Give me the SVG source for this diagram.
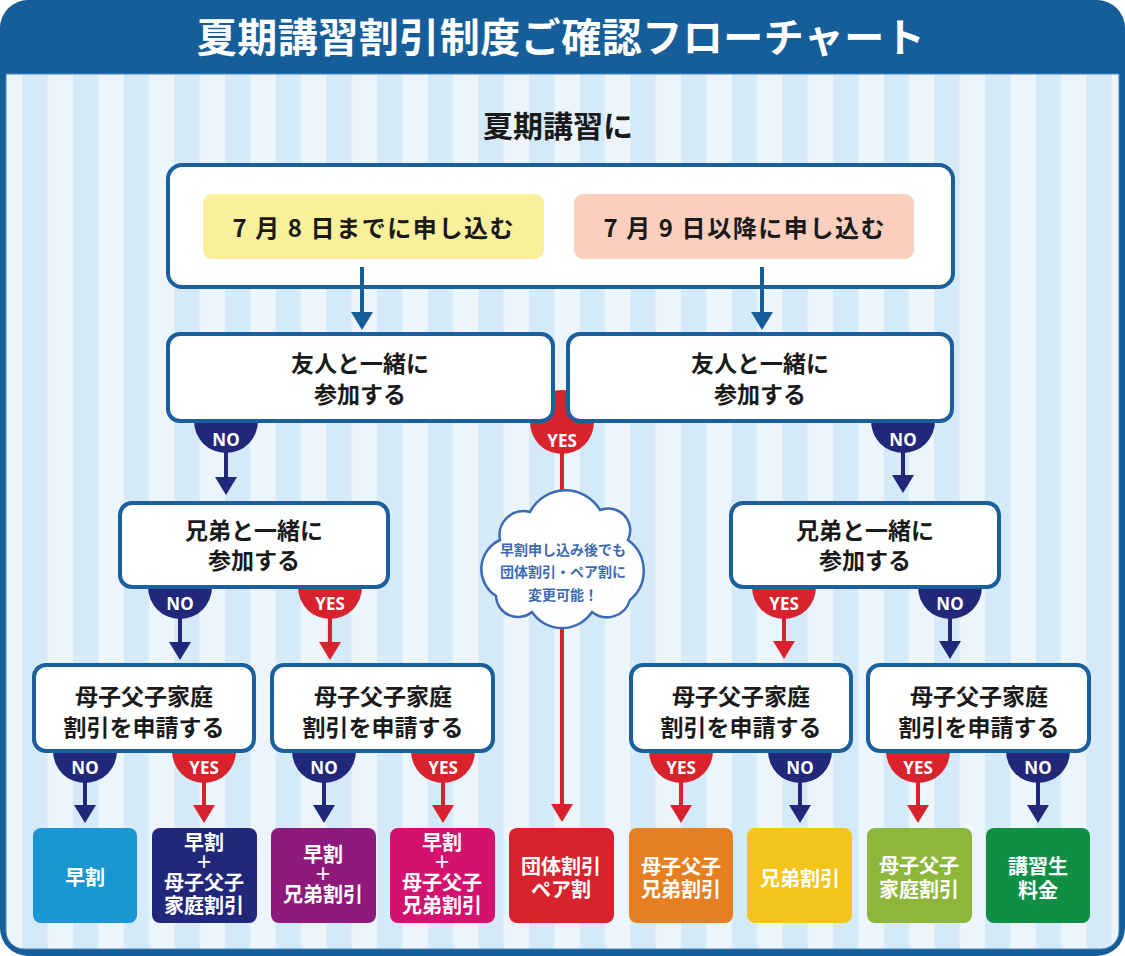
<svg xmlns="http://www.w3.org/2000/svg" width="1125" height="956" viewBox="0 0 1125 956">
<defs>
<pattern id="stripes" patternUnits="userSpaceOnUse" x="22.33" y="0" width="50.67" height="10">
<rect width="50.67" height="10" fill="#ecf5fc"/>
<rect width="25.33" height="10" fill="#d4eaf8"/>
</pattern>
<marker id="ah-blue" viewBox="0 0 18 22" refX="2" refY="11" markerWidth="18" markerHeight="22" markerUnits="userSpaceOnUse" orient="auto"><path d="M0,0 L18,11 L0,22 Z" fill="#165e99"/></marker>
<marker id="ah-navy" viewBox="0 0 18 22" refX="2" refY="11" markerWidth="18" markerHeight="22" markerUnits="userSpaceOnUse" orient="auto"><path d="M0,0 L18,11 L0,22 Z" fill="#21287a"/></marker>
<marker id="ah-red" viewBox="0 0 18 22" refX="2" refY="11" markerWidth="18" markerHeight="22" markerUnits="userSpaceOnUse" orient="auto"><path d="M0,0 L18,11 L0,22 Z" fill="#d8232e"/></marker>
</defs>
<style>
text{font-family:"Noto Sans CJK JP","Noto Sans",sans-serif;font-weight:700;text-anchor:middle}
.title{fill:#ffffff;font-size:40px;letter-spacing:0.5px}
.head{fill:#1a1a1a;font-size:30px}
.date{fill:#1a1a1a;font-size:24px}
.q{fill:#1a1a1a;font-size:23px}
.box{fill:#ffffff;stroke:#1b5f9c;stroke-width:4}
.no{fill:#21287a}
.yes{fill:#d8232e}
.lbl{fill:#ffffff;font-size:17px;font-family:"Noto Sans","Open Sans",sans-serif}
.res{fill:#ffffff;font-size:20px}
.plus{font-size:17px}
.cl{fill:#3d6ab3;font-size:14px}
.ln-blue{stroke:#165e99;stroke-width:4;fill:none;marker-end:url(#ah-blue)}
.ln-navy{stroke:#21287a;stroke-width:4;fill:none;marker-end:url(#ah-navy)}
.ln-red{stroke:#d8232e;stroke-width:4;fill:none;marker-end:url(#ah-red)}
</style>

<!-- frame -->
<rect x="0" y="0" width="1125" height="956" rx="28" fill="#165e99"/>
<path d="M6,74 H1119 V931 A18,18 0 0 1 1101,949 H24 A18,18 0 0 1 6,931 Z" fill="url(#stripes)" stroke="#4a86bd" stroke-width="1"/>
<text class="title" x="561" y="52">夏期講習割引制度ご確認フローチャート</text>
<text class="head" x="558" y="137">夏期講習に</text>

<!-- badges (behind boxes) -->
<g id="badges">
<circle class="no" cx="226" cy="421" r="32"/><text class="lbl" x="226" y="446">NO</text>
<circle class="yes" cx="562" cy="422" r="32"/><text class="lbl" x="562" y="447">YES</text>
<circle class="no" cx="903" cy="421" r="32"/><text class="lbl" x="903" y="446">NO</text>
<circle class="no" cx="180" cy="587" r="32"/><text class="lbl" x="180" y="610">NO</text>
<circle class="yes" cx="330" cy="587" r="32"/><text class="lbl" x="330" y="610">YES</text>
<circle class="yes" cx="784" cy="587" r="32"/><text class="lbl" x="784" y="610">YES</text>
<circle class="no" cx="950" cy="587" r="32"/><text class="lbl" x="950" y="610">NO</text>
<circle class="no" cx="85" cy="751" r="32"/><text class="lbl" x="85" y="774">NO</text>
<circle class="yes" cx="204" cy="751" r="32"/><text class="lbl" x="204" y="774">YES</text>
<circle class="no" cx="324" cy="751" r="32"/><text class="lbl" x="324" y="774">NO</text>
<circle class="yes" cx="443" cy="751" r="32"/><text class="lbl" x="443" y="774">YES</text>
<circle class="yes" cx="681" cy="751" r="32"/><text class="lbl" x="681" y="774">YES</text>
<circle class="no" cx="800" cy="751" r="32"/><text class="lbl" x="800" y="774">NO</text>
<circle class="yes" cx="918" cy="751" r="32"/><text class="lbl" x="918" y="774">YES</text>
<circle class="no" cx="1038" cy="751" r="32"/><text class="lbl" x="1038" y="774">NO</text>
</g>

<!-- nodes -->
<g id="start">
<rect class="box" x="168" y="165" width="785" height="122" rx="14"/>
</g>
<g id="early">
<rect x="203" y="194" width="341" height="65" rx="9" fill="#f8f09a"/>
<text class="date" x="373" y="237" textLength="281" lengthAdjust="spacing">7 月 8 日までに申し込む</text>
</g>
<g id="late">
<rect x="574" y="194" width="340" height="65" rx="9" fill="#fbcfbd"/>
<text class="date" x="744" y="237" textLength="281" lengthAdjust="spacing">7 月 9 日以降に申し込む</text>
</g>
<g id="friend-early">
<rect class="box" x="168" y="334" width="385" height="87" rx="12"/>
<text class="q" x="360" y="372">友人と一緒に<tspan x="360" y="403">参加する</tspan></text>
</g>
<g id="friend-late">
<rect class="box" x="568" y="334" width="384" height="87" rx="12"/>
<text class="q" x="760" y="372">友人と一緒に<tspan x="760" y="403">参加する</tspan></text>
</g>
<g id="sibling-early">
<rect class="box" x="120" y="503" width="268" height="84" rx="12"/>
<text class="q" x="254" y="539">兄弟と一緒に<tspan x="254" y="569">参加する</tspan></text>
</g>
<g id="sibling-late">
<rect class="box" x="731" y="503" width="268" height="84" rx="12"/>
<text class="q" x="865" y="539">兄弟と一緒に<tspan x="865" y="569">参加する</tspan></text>
</g>
<g id="single-1">
<rect class="box" x="34" y="665" width="220" height="86" rx="12"/>
<text class="q" x="144" y="705">母子父子家庭<tspan x="144" y="736">割引を申請する</tspan></text>
</g>
<g id="single-2">
<rect class="box" x="272" y="665" width="221" height="86" rx="12"/>
<text class="q" x="383" y="705">母子父子家庭<tspan x="383" y="736">割引を申請する</tspan></text>
</g>
<g id="single-3">
<rect class="box" x="631" y="665" width="220" height="86" rx="12"/>
<text class="q" x="741" y="705">母子父子家庭<tspan x="741" y="736">割引を申請する</tspan></text>
</g>
<g id="single-4">
<rect class="box" x="868" y="665" width="221" height="86" rx="12"/>
<text class="q" x="979" y="705">母子父子家庭<tspan x="979" y="736">割引を申請する</tspan></text>
</g>

<!-- connectors -->
<g id="connectors">
<line class="ln-blue" x1="362" y1="267" x2="362" y2="314"/>
<line class="ln-blue" x1="762" y1="267" x2="762" y2="314"/>
<line class="ln-navy" x1="226" y1="451" x2="226" y2="479"/>
<line class="ln-navy" x1="903" y1="451" x2="903" y2="477"/>
<line class="ln-red" x1="562" y1="452" x2="562" y2="806"/>
<line class="ln-navy" x1="180" y1="617" x2="180" y2="644"/>
<line class="ln-red" x1="330" y1="617" x2="330" y2="644"/>
<line class="ln-red" x1="784" y1="617" x2="784" y2="643"/>
<line class="ln-navy" x1="950" y1="617" x2="950" y2="643"/>
<line class="ln-navy" x1="85" y1="781" x2="85" y2="807"/>
<line class="ln-red" x1="204" y1="781" x2="204" y2="807"/>
<line class="ln-navy" x1="324" y1="781" x2="324" y2="807"/>
<line class="ln-red" x1="443" y1="781" x2="443" y2="807"/>
<line class="ln-red" x1="681" y1="781" x2="681" y2="807"/>
<line class="ln-navy" x1="800" y1="781" x2="800" y2="807"/>
<line class="ln-red" x1="918" y1="781" x2="918" y2="807"/>
<line class="ln-navy" x1="1038" y1="781" x2="1038" y2="807"/>
</g>

<!-- cloud note -->
<g id="note">
<path d="M530,512 A40,40 0 0 1 600,510 A22,22 0 0 1 628,540 A38,38 0 0 1 630,600 A24,24 0 0 1 592,612 A36,36 0 0 1 532,612 A22,22 0 0 1 496,596 A32,32 0 0 1 500,540 A24,24 0 0 1 530,512 Z" fill="#ffffff" stroke="#3d6ab3" stroke-width="2.5"/>
<text class="cl" x="563" y="555">早割申し込み後でも<tspan x="563" y="577">団体割引・ペア割に</tspan><tspan x="563" y="600">変更可能！</tspan></text>
</g>

<!-- results -->
<g id="r-hayawari">
<rect x="33" y="828" width="104" height="95" rx="8" fill="#1a96d2"/>
<text class="res" x="85" y="885">早割</text>
</g>
<g id="r-hayawari-single">
<rect x="152" y="828" width="105" height="95" rx="8" fill="#21287a"/>
<text class="res" x="204" y="850">早割<tspan class="plus" x="204" y="868">＋</tspan><tspan x="204" y="890">母子父子</tspan><tspan x="204" y="913">家庭割引</tspan></text>
</g>
<g id="r-hayawari-sibling">
<rect x="271" y="828" width="105" height="95" rx="8" fill="#8f1a7b"/>
<text class="res" x="323" y="862">早割<tspan class="plus" x="323" y="880">＋</tspan><tspan x="323" y="902">兄弟割引</tspan></text>
</g>
<g id="r-hayawari-single-sibling">
<rect x="390" y="828" width="105" height="95" rx="8" fill="#d3126f"/>
<text class="res" x="442" y="850">早割<tspan class="plus" x="442" y="868">＋</tspan><tspan x="442" y="890">母子父子</tspan><tspan x="442" y="913">兄弟割引</tspan></text>
</g>
<g id="r-group">
<rect x="509" y="828" width="105" height="95" rx="8" fill="#d8232e"/>
<text class="res" x="561" y="874">団体割引<tspan x="561" y="897">ペア割</tspan></text>
</g>
<g id="r-single-sibling">
<rect x="629" y="828" width="104" height="95" rx="8" fill="#e57f22"/>
<text class="res" x="681" y="874">母子父子<tspan x="681" y="897">兄弟割引</tspan></text>
</g>
<g id="r-sibling">
<rect x="747" y="828" width="105" height="95" rx="8" fill="#f4c41b"/>
<text class="res" x="800" y="886">兄弟割引</text>
</g>
<g id="r-single">
<rect x="867" y="828" width="105" height="95" rx="8" fill="#8db73a"/>
<text class="res" x="919" y="873">母子父子<tspan x="919" y="897">家庭割引</tspan></text>
</g>
<g id="r-regular">
<rect x="986" y="828" width="104" height="95" rx="8" fill="#0f8f46"/>
<text class="res" x="1038" y="874">講習生<tspan x="1038" y="898">料金</tspan></text>
</g>
</svg>
